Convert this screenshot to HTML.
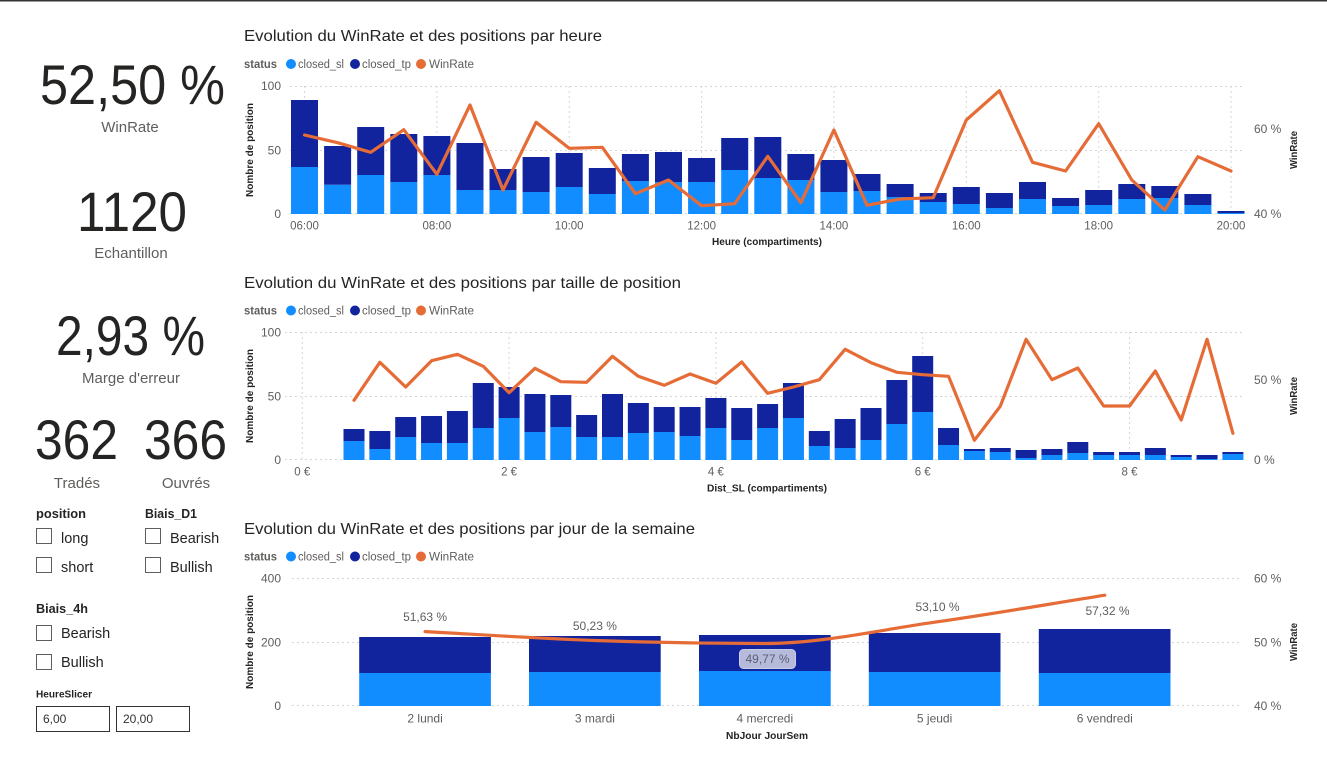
<!DOCTYPE html>
<html><head><meta charset="utf-8"><style>
html,body{margin:0;padding:0;background:#fff;}
svg{display:block;}
text{font-family:"Liberation Sans",sans-serif;}
</style></head><body>
<svg width="1327" height="768" viewBox="0 0 1327 768" xmlns="http://www.w3.org/2000/svg">
<rect x="0" y="0" width="1327" height="768" fill="#fff"/>
<rect x="0" y="0" width="1327" height="1.5" fill="#333"/>

<!-- LEFT PANEL -->
<g fill="#252423">
<text x="40" y="104" font-size="56" textLength="185" lengthAdjust="spacingAndGlyphs">52,50 %</text>
<text x="77" y="231" font-size="56" textLength="110" lengthAdjust="spacingAndGlyphs">1120</text>
<text x="56" y="355" font-size="56" textLength="149" lengthAdjust="spacingAndGlyphs">2,93 %</text>
<text x="35" y="459" font-size="56" textLength="83" lengthAdjust="spacingAndGlyphs">362</text>
<text x="144" y="459" font-size="56" textLength="83" lengthAdjust="spacingAndGlyphs">366</text>
</g>
<g fill="#605E5C" font-size="15" text-anchor="middle">
<text x="130" y="132">WinRate</text>
<text x="131" y="258">Echantillon</text>
<text x="131" y="383">Marge d'erreur</text>
<text x="77" y="488">Tradés</text>
<text x="186" y="488">Ouvrés</text>
</g>
<g fill="#252423">
<text x="36" y="518" font-size="13" font-weight="bold" textLength="50" lengthAdjust="spacingAndGlyphs">position</text>
<text x="145" y="518" font-size="13" font-weight="bold" textLength="52" lengthAdjust="spacingAndGlyphs">Biais_D1</text>
<text x="36" y="613" font-size="13" font-weight="bold" textLength="52" lengthAdjust="spacingAndGlyphs">Biais_4h</text>
<text x="36" y="697.5" font-size="10.5" font-weight="bold" textLength="56" lengthAdjust="spacingAndGlyphs">HeureSlicer</text>
</g>
<g fill="#fff" stroke="#605E5C" stroke-width="1">
<rect x="36.5" y="528.5" width="15" height="15"/>
<rect x="36.5" y="557.5" width="15" height="15"/>
<rect x="145.5" y="528.5" width="15" height="15"/>
<rect x="145.5" y="557.5" width="15" height="15"/>
<rect x="36.5" y="625.5" width="15" height="15"/>
<rect x="36.5" y="654.5" width="15" height="15"/>
</g>
<g fill="#252423" font-size="14.5">
<text x="61" y="543">long</text>
<text x="61" y="572">short</text>
<text x="170" y="543">Bearish</text>
<text x="170" y="572">Bullish</text>
<text x="61" y="638">Bearish</text>
<text x="61" y="667">Bullish</text>
</g>
<rect x="36.5" y="706.5" width="73" height="25" fill="#fff" stroke="#333" stroke-width="1"/>
<rect x="116.5" y="706.5" width="73" height="25" fill="#fff" stroke="#333" stroke-width="1"/>
<g fill="#333" font-size="12">
<text x="43" y="723">6,00</text>
<text x="123" y="723">20,00</text>
</g>

<!-- ================= CHART 1 ================= -->
<text x="244" y="41" font-size="16" fill="#252423" textLength="358" lengthAdjust="spacingAndGlyphs">Evolution du WinRate et des positions par heure</text>
<g font-size="11.5">
<text x="244" y="68" font-weight="bold" fill="#605E5C" textLength="33" lengthAdjust="spacingAndGlyphs">status</text>
<circle cx="291" cy="64" r="5" fill="#118DFF"/>
<text x="298" y="68" fill="#605E5C" textLength="46" lengthAdjust="spacingAndGlyphs">closed_sl</text>
<circle cx="355" cy="64" r="5" fill="#12239E"/>
<text x="362" y="68" fill="#605E5C" textLength="49" lengthAdjust="spacingAndGlyphs">closed_tp</text>
<circle cx="421" cy="64" r="5" fill="#E66C37"/>
<text x="429" y="68" fill="#605E5C" textLength="45" lengthAdjust="spacingAndGlyphs">WinRate</text>
</g>
<g stroke="#D6D6D6" stroke-width="1" stroke-dasharray="2,3">
<line x1="290" y1="86.5" x2="1244" y2="86.5"/>
<line x1="290" y1="150.5" x2="1244" y2="150.5"/>
<line x1="290" y1="213.5" x2="1244" y2="213.5"/>
<line x1="304.5" y1="86" x2="304.5" y2="214"/>
<line x1="436.9" y1="86" x2="436.9" y2="214"/>
<line x1="569.2" y1="86" x2="569.2" y2="214"/>
<line x1="701.6" y1="86" x2="701.6" y2="214"/>
<line x1="833.9" y1="86" x2="833.9" y2="214"/>
<line x1="966.3" y1="86" x2="966.3" y2="214"/>
<line x1="1098.7" y1="86" x2="1098.7" y2="214"/>
<line x1="1231" y1="86" x2="1231" y2="214"/>
</g>
<g fill="#118DFF">
<rect x="291.0" y="167" width="27" height="47"/>
<rect x="324.1" y="184.7" width="27" height="29.3"/>
<rect x="357.2" y="175" width="27" height="39"/>
<rect x="390.3" y="182" width="27" height="32"/>
<rect x="423.4" y="175" width="27" height="39"/>
<rect x="456.5" y="190" width="27" height="24"/>
<rect x="489.5" y="190" width="27" height="24"/>
<rect x="522.6" y="192" width="27" height="22"/>
<rect x="555.7" y="187" width="27" height="27"/>
<rect x="588.8" y="194" width="27" height="20"/>
<rect x="621.9" y="181" width="27" height="33"/>
<rect x="655.0" y="182" width="27" height="32"/>
<rect x="688.1" y="182" width="27" height="32"/>
<rect x="721.2" y="170" width="27" height="44"/>
<rect x="754.3" y="178" width="27" height="36"/>
<rect x="787.4" y="180" width="27" height="34"/>
<rect x="820.4" y="192" width="27" height="22"/>
<rect x="853.5" y="191" width="27" height="23"/>
<rect x="886.6" y="197" width="27" height="17"/>
<rect x="919.7" y="202" width="27" height="12"/>
<rect x="952.8" y="204" width="27" height="10"/>
<rect x="985.9" y="208" width="27" height="6"/>
<rect x="1019.0" y="199" width="27" height="15"/>
<rect x="1052.1" y="206" width="27" height="8"/>
<rect x="1085.2" y="205" width="27" height="9"/>
<rect x="1118.3" y="199" width="27" height="15"/>
<rect x="1151.3" y="198" width="27" height="16"/>
<rect x="1184.4" y="205" width="27" height="9"/>
<rect x="1217.5" y="213" width="27" height="1"/>
</g>
<g fill="#12239E">
<rect x="291.0" y="100" width="27" height="67"/>
<rect x="324.1" y="146" width="27" height="38.7"/>
<rect x="357.2" y="127" width="27" height="48"/>
<rect x="390.3" y="134" width="27" height="48"/>
<rect x="423.4" y="136" width="27" height="39"/>
<rect x="456.5" y="143" width="27" height="47"/>
<rect x="489.5" y="169" width="27" height="21"/>
<rect x="522.6" y="157" width="27" height="35"/>
<rect x="555.7" y="153" width="27" height="34"/>
<rect x="588.8" y="168" width="27" height="26"/>
<rect x="621.9" y="154" width="27" height="27"/>
<rect x="655.0" y="152" width="27" height="30"/>
<rect x="688.1" y="158" width="27" height="24"/>
<rect x="721.2" y="138" width="27" height="32"/>
<rect x="754.3" y="137" width="27" height="41"/>
<rect x="787.4" y="154" width="27" height="26"/>
<rect x="820.4" y="160" width="27" height="32"/>
<rect x="853.5" y="174" width="27" height="17"/>
<rect x="886.6" y="184" width="27" height="13"/>
<rect x="919.7" y="193" width="27" height="9"/>
<rect x="952.8" y="187" width="27" height="17"/>
<rect x="985.9" y="193" width="27" height="15"/>
<rect x="1019.0" y="182" width="27" height="17"/>
<rect x="1052.1" y="198" width="27" height="8"/>
<rect x="1085.2" y="190" width="27" height="15"/>
<rect x="1118.3" y="184" width="27" height="15"/>
<rect x="1151.3" y="186" width="27" height="12"/>
<rect x="1184.4" y="194" width="27" height="11"/>
<rect x="1217.5" y="211" width="27" height="2"/>
</g>
<polyline fill="none" stroke="#E66C37" stroke-width="3.2" stroke-linejoin="round" stroke-linecap="round" points="304.5,135 337.6,142.7 370.7,152.3 403.8,129.7 436.9,174.3 470.0,105 503.0,190 536.1,122.3 569.2,148.3 602.3,147.3 635.4,193.7 668.5,180 701.6,205.7 734.7,203.7 767.8,156.3 800.9,202.7 833.9,130 867.0,205.3 900.1,199 933.2,197.7 966.3,120 999.4,90.7 1032.5,162.3 1065.6,171 1098.7,123.7 1131.8,180 1164.8,210 1197.9,156.7 1231.0,171"/>
<g font-size="12" fill="#605E5C" text-anchor="end">
<text x="281" y="90">100</text>
<text x="281" y="154.5">50</text>
<text x="281" y="218">0</text>
</g>
<g font-size="12" fill="#605E5C">
<text x="1254" y="133">60 %</text>
<text x="1254" y="218">40 %</text>
</g>
<g font-size="11.5" fill="#605E5C" text-anchor="middle">
<text x="304.5" y="229.5">06:00</text>
<text x="436.9" y="229.5">08:00</text>
<text x="569.2" y="229.5">10:00</text>
<text x="701.6" y="229.5">12:00</text>
<text x="833.9" y="229.5">14:00</text>
<text x="966.3" y="229.5">16:00</text>
<text x="1098.7" y="229.5">18:00</text>
<text x="1231" y="229.5">20:00</text>
</g>
<text x="767" y="245" font-size="10.5" font-weight="bold" fill="#252423" text-anchor="middle" textLength="110" lengthAdjust="spacingAndGlyphs">Heure (compartiments)</text>
<text transform="translate(253,150) rotate(-90)" font-size="10.5" font-weight="bold" fill="#252423" text-anchor="middle" textLength="94" lengthAdjust="spacingAndGlyphs">Nombre de position</text>
<text transform="translate(1297,150) rotate(-90)" font-size="10.5" font-weight="bold" fill="#252423" text-anchor="middle" textLength="38" lengthAdjust="spacingAndGlyphs">WinRate</text>

<!-- ================= CHART 2 ================= -->
<text x="244" y="288" font-size="16" fill="#252423" textLength="437" lengthAdjust="spacingAndGlyphs">Evolution du WinRate et des positions par taille de position</text>
<g font-size="11.5">
<text x="244" y="314.5" font-weight="bold" fill="#605E5C" textLength="33" lengthAdjust="spacingAndGlyphs">status</text>
<circle cx="291" cy="310.5" r="5" fill="#118DFF"/>
<text x="298" y="314.5" fill="#605E5C" textLength="46" lengthAdjust="spacingAndGlyphs">closed_sl</text>
<circle cx="355" cy="310.5" r="5" fill="#12239E"/>
<text x="362" y="314.5" fill="#605E5C" textLength="49" lengthAdjust="spacingAndGlyphs">closed_tp</text>
<circle cx="421" cy="310.5" r="5" fill="#E66C37"/>
<text x="429" y="314.5" fill="#605E5C" textLength="45" lengthAdjust="spacingAndGlyphs">WinRate</text>
</g>
<g stroke="#D6D6D6" stroke-width="1" stroke-dasharray="2,3">
<line x1="285" y1="332.5" x2="1244" y2="332.5"/>
<line x1="285" y1="396.5" x2="1244" y2="396.5"/>
<line x1="285" y1="459.5" x2="1244" y2="459.5"/>
<line x1="302.3" y1="332" x2="302.3" y2="460"/>
<line x1="509.1" y1="332" x2="509.1" y2="460"/>
<line x1="715.9" y1="332" x2="715.9" y2="460"/>
<line x1="922.7" y1="332" x2="922.7" y2="460"/>
<line x1="1129.5" y1="332" x2="1129.5" y2="460"/>
</g>
<g fill="#118DFF">
<rect x="343.5" y="441" width="21" height="19"/>
<rect x="369.35" y="449" width="21" height="11"/>
<rect x="395.2" y="437" width="21" height="23"/>
<rect x="421.05" y="443" width="21" height="17"/>
<rect x="446.9" y="443" width="21" height="17"/>
<rect x="472.75" y="428" width="21" height="32"/>
<rect x="498.6" y="418" width="21" height="42"/>
<rect x="524.45" y="432" width="21" height="28"/>
<rect x="550.3" y="427" width="21" height="33"/>
<rect x="576.15" y="437" width="21" height="23"/>
<rect x="602.0" y="437" width="21" height="23"/>
<rect x="627.85" y="433" width="21" height="27"/>
<rect x="653.7" y="432" width="21" height="28"/>
<rect x="679.55" y="436" width="21" height="24"/>
<rect x="705.4" y="428" width="21" height="32"/>
<rect x="731.25" y="440" width="21" height="20"/>
<rect x="757.1" y="428" width="21" height="32"/>
<rect x="782.95" y="418" width="21" height="42"/>
<rect x="808.8" y="446" width="21" height="14"/>
<rect x="834.65" y="448" width="21" height="12"/>
<rect x="860.5" y="440" width="21" height="20"/>
<rect x="886.35" y="424" width="21" height="36"/>
<rect x="912.2" y="412" width="21" height="48"/>
<rect x="938.05" y="445" width="21" height="15"/>
<rect x="963.9" y="451" width="21" height="9"/>
<rect x="989.75" y="452" width="21" height="8"/>
<rect x="1015.6" y="458" width="21" height="2"/>
<rect x="1041.45" y="455" width="21" height="5"/>
<rect x="1067.3" y="453" width="21" height="7"/>
<rect x="1093.15" y="455" width="21" height="5"/>
<rect x="1119.0" y="455" width="21" height="5"/>
<rect x="1144.85" y="455" width="21" height="5"/>
<rect x="1170.7" y="457" width="21" height="3"/>
<rect x="1196.55" y="459" width="21" height="1"/>
<rect x="1222.4" y="454" width="21" height="6"/>
</g>
<g fill="#12239E">
<rect x="343.5" y="429" width="21" height="12"/>
<rect x="369.35" y="431" width="21" height="18"/>
<rect x="395.2" y="417" width="21" height="20"/>
<rect x="421.05" y="416" width="21" height="27"/>
<rect x="446.9" y="411" width="21" height="32"/>
<rect x="472.75" y="383" width="21" height="45"/>
<rect x="498.6" y="387" width="21" height="31"/>
<rect x="524.45" y="394" width="21" height="38"/>
<rect x="550.3" y="395" width="21" height="32"/>
<rect x="576.15" y="415" width="21" height="22"/>
<rect x="602.0" y="394" width="21" height="43"/>
<rect x="627.85" y="403" width="21" height="30"/>
<rect x="653.7" y="407" width="21" height="25"/>
<rect x="679.55" y="407" width="21" height="29"/>
<rect x="705.4" y="398" width="21" height="30"/>
<rect x="731.25" y="408" width="21" height="32"/>
<rect x="757.1" y="404" width="21" height="24"/>
<rect x="782.95" y="383" width="21" height="35"/>
<rect x="808.8" y="431" width="21" height="15"/>
<rect x="834.65" y="419" width="21" height="29"/>
<rect x="860.5" y="408" width="21" height="32"/>
<rect x="886.35" y="380" width="21" height="44"/>
<rect x="912.2" y="356" width="21" height="56"/>
<rect x="938.05" y="428" width="21" height="17"/>
<rect x="963.9" y="449" width="21" height="2"/>
<rect x="989.75" y="448" width="21" height="4"/>
<rect x="1015.6" y="450" width="21" height="8"/>
<rect x="1041.45" y="449" width="21" height="6"/>
<rect x="1067.3" y="442" width="21" height="11"/>
<rect x="1093.15" y="452" width="21" height="3"/>
<rect x="1119.0" y="452" width="21" height="3"/>
<rect x="1144.85" y="448" width="21" height="7"/>
<rect x="1170.7" y="455" width="21" height="2"/>
<rect x="1196.55" y="455" width="21" height="4"/>
<rect x="1222.4" y="452" width="21" height="2"/>
</g>
<polyline fill="none" stroke="#E66C37" stroke-width="3.2" stroke-linejoin="round" stroke-linecap="round" points="354.0,400.3 379.85,362.3 405.7,387 431.55,360.7 457.4,354.3 483.25,366.3 509.1,392.7 534.95,368.3 560.8,381.7 586.65,382.3 612.5,356.3 638.35,376.3 664.2,385.3 690.05,374 715.9,383.3 741.75,362 767.6,393.3 793.45,387 819.3,379.7 845.15,349.3 871.0,362.7 896.85,372.3 922.7,374.7 948.55,376.3 974.4,440.3 1000.25,406.3 1026.1,339.3 1051.95,379.7 1077.8,368 1103.65,406 1129.5,406 1155.35,371 1181.2,420 1207.05,339.3 1232.9,433.3"/>
<g font-size="12" fill="#605E5C" text-anchor="end">
<text x="281" y="336.5">100</text>
<text x="281" y="400.5">50</text>
<text x="281" y="464">0</text>
</g>
<g font-size="12" fill="#605E5C">
<text x="1254" y="384">50 %</text>
<text x="1254" y="464">0 %</text>
</g>
<g font-size="11.5" fill="#605E5C" text-anchor="middle">
<text x="302.3" y="475.5">0 €</text>
<text x="509.1" y="475.5">2 €</text>
<text x="715.9" y="475.5">4 €</text>
<text x="922.7" y="475.5">6 €</text>
<text x="1129.5" y="475.5">8 €</text>
</g>
<text x="767" y="491.5" font-size="10.5" font-weight="bold" fill="#252423" text-anchor="middle" textLength="120" lengthAdjust="spacingAndGlyphs">Dist_SL (compartiments)</text>
<text transform="translate(253,396) rotate(-90)" font-size="10.5" font-weight="bold" fill="#252423" text-anchor="middle" textLength="94" lengthAdjust="spacingAndGlyphs">Nombre de position</text>
<text transform="translate(1297,396) rotate(-90)" font-size="10.5" font-weight="bold" fill="#252423" text-anchor="middle" textLength="38" lengthAdjust="spacingAndGlyphs">WinRate</text>

<!-- ================= CHART 3 ================= -->
<text x="244" y="534" font-size="16" fill="#252423" textLength="451" lengthAdjust="spacingAndGlyphs">Evolution du WinRate et des positions par jour de la semaine</text>
<g font-size="11.5">
<text x="244" y="560.5" font-weight="bold" fill="#605E5C" textLength="33" lengthAdjust="spacingAndGlyphs">status</text>
<circle cx="291" cy="556.5" r="5" fill="#118DFF"/>
<text x="298" y="560.5" fill="#605E5C" textLength="46" lengthAdjust="spacingAndGlyphs">closed_sl</text>
<circle cx="355" cy="556.5" r="5" fill="#12239E"/>
<text x="362" y="560.5" fill="#605E5C" textLength="49" lengthAdjust="spacingAndGlyphs">closed_tp</text>
<circle cx="421" cy="556.5" r="5" fill="#E66C37"/>
<text x="429" y="560.5" fill="#605E5C" textLength="45" lengthAdjust="spacingAndGlyphs">WinRate</text>
</g>
<g stroke="#D6D6D6" stroke-width="1" stroke-dasharray="2,3">
<line x1="292" y1="578.5" x2="1240" y2="578.5"/>
<line x1="292" y1="642.5" x2="1240" y2="642.5"/>
<line x1="292" y1="705.5" x2="1240" y2="705.5"/>
</g>
<g fill="#118DFF">
<rect x="359.2" y="673" width="131.7" height="33"/>
<rect x="529.0" y="672" width="131.7" height="34"/>
<rect x="699.0" y="671" width="131.7" height="35"/>
<rect x="868.8" y="672" width="131.7" height="34"/>
<rect x="1038.8" y="673" width="131.7" height="33"/>
</g>
<g fill="#12239E">
<rect x="359.2" y="637" width="131.7" height="36"/>
<rect x="529.0" y="636" width="131.7" height="36"/>
<rect x="699.0" y="635" width="131.7" height="36"/>
<rect x="868.8" y="633" width="131.7" height="39"/>
<rect x="1038.8" y="629" width="131.7" height="44"/>
</g>
<path fill="none" stroke="#E66C37" stroke-width="3.2" stroke-linecap="round" stroke-linejoin="round" d="M425.1,631.6 C481.7,634.6 538.3,638.5 594.9,640.5 C651.5,642.5 708.2,643.5 764.8,643.5 C821.4,643.5 878.0,630.2 934.6,622.2 C991.3,614.2 1048.1,604.2 1104.8,595.2"/>
<rect x="739.5" y="649.5" width="56" height="19" rx="4" ry="4" fill="#B6BBDB" stroke="#C9CDE7" stroke-width="1"/>
<g font-size="12" fill="#605E5C" text-anchor="middle">
<text x="425.1" y="621">51,63 %</text>
<text x="594.9" y="630">50,23 %</text>
<text x="767.5" y="663" fill="#5B5F78">49,77 %</text>
<text x="937.5" y="611">53,10 %</text>
<text x="1107.5" y="615">57,32 %</text>
</g>
<g font-size="12" fill="#605E5C" text-anchor="end">
<text x="281" y="582.5">400</text>
<text x="281" y="646.5">200</text>
<text x="281" y="710">0</text>
</g>
<g font-size="12" fill="#605E5C">
<text x="1254" y="582.5">60 %</text>
<text x="1254" y="646.5">50 %</text>
<text x="1254" y="710">40 %</text>
</g>
<g font-size="12" fill="#605E5C" text-anchor="middle">
<text x="425.1" y="722.5">2 lundi</text>
<text x="594.9" y="722.5">3 mardi</text>
<text x="764.8" y="722.5">4 mercredi</text>
<text x="934.6" y="722.5">5 jeudi</text>
<text x="1104.8" y="722.5">6 vendredi</text>
</g>
<text x="767" y="739" font-size="10.5" font-weight="bold" fill="#252423" text-anchor="middle" textLength="82" lengthAdjust="spacingAndGlyphs">NbJour JourSem</text>
<text transform="translate(253,642) rotate(-90)" font-size="10.5" font-weight="bold" fill="#252423" text-anchor="middle" textLength="94" lengthAdjust="spacingAndGlyphs">Nombre de position</text>
<text transform="translate(1297,642) rotate(-90)" font-size="10.5" font-weight="bold" fill="#252423" text-anchor="middle" textLength="38" lengthAdjust="spacingAndGlyphs">WinRate</text>
</svg>
</body></html>
